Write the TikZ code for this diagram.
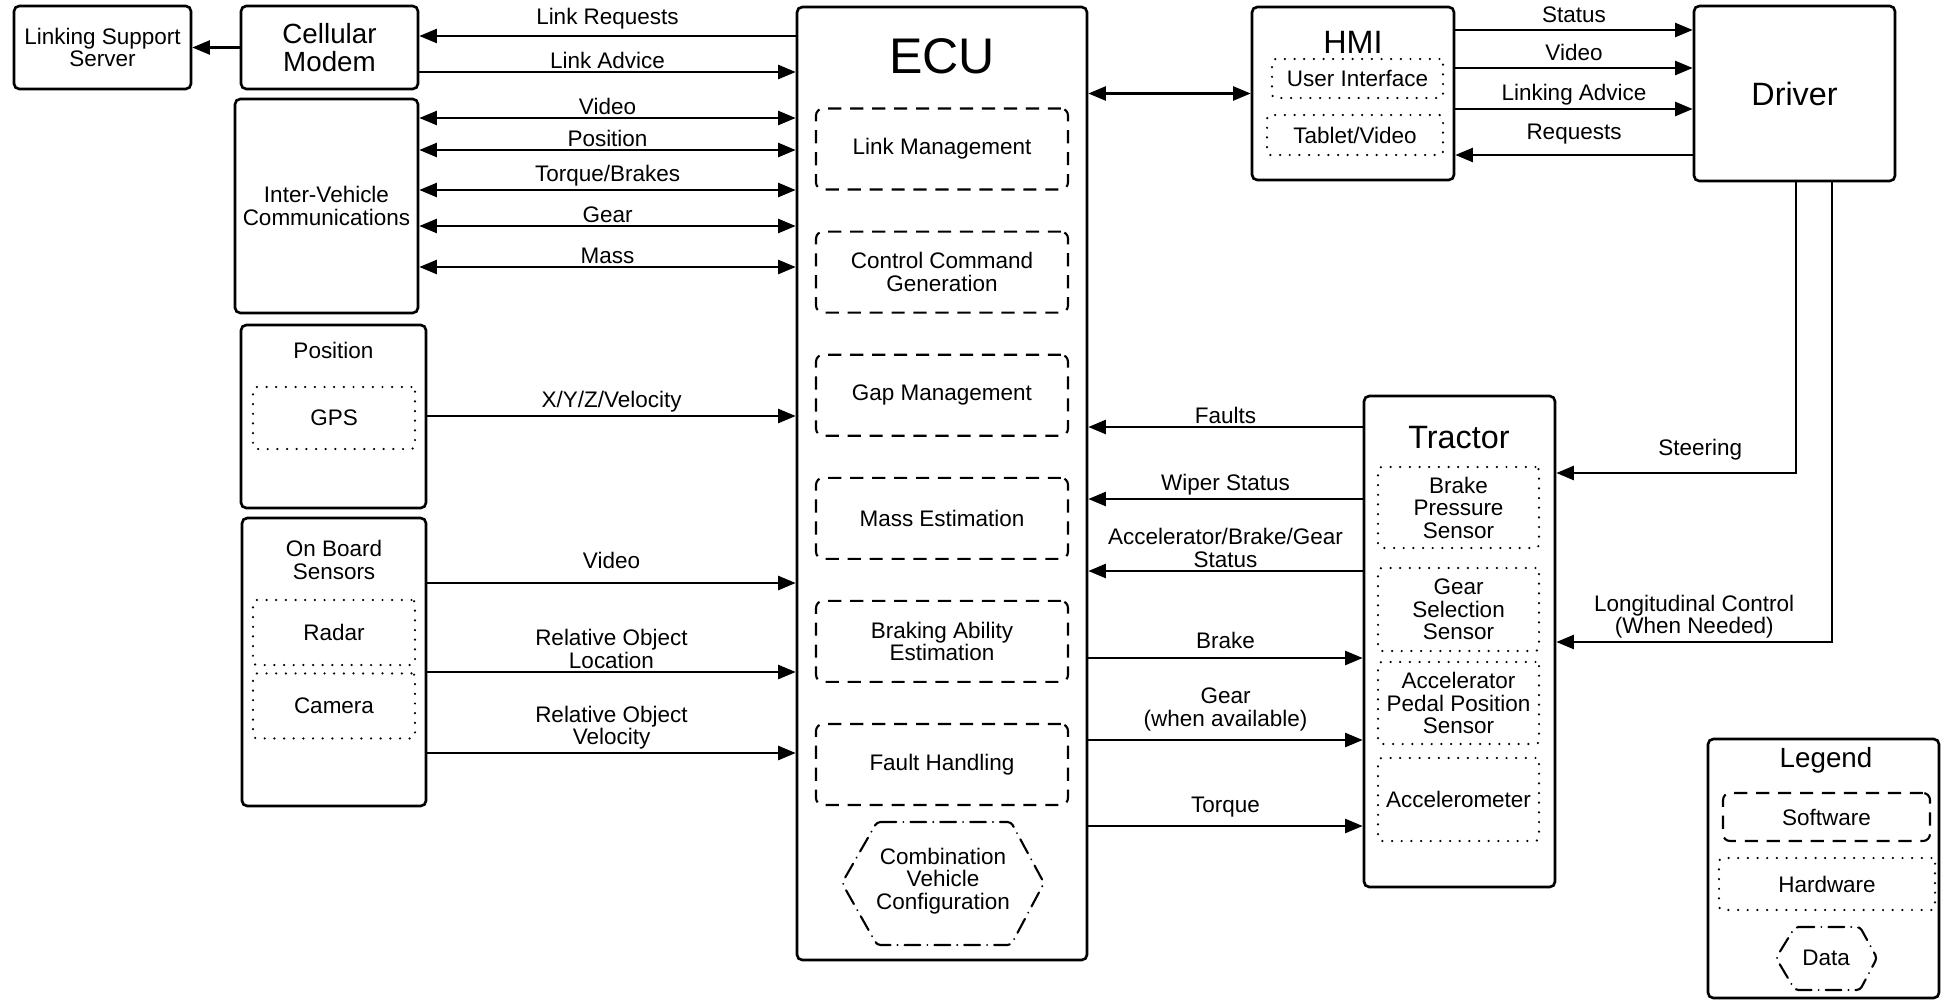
\documentclass[tikz,border=0pt]{standalone}
\usepackage{fontspec}
\setmainfont{Liberation Sans}
\usetikzlibrary{positioning,arrows.meta}
\newcommand{\pxu}{0.02cm}
\newcommand{\lblfont}{\fontsize{12.8}{12.8}\selectfont}
\newcommand{\midfont}{\fontsize{15.8}{15.8}\selectfont}
\newcommand{\bigfont}{\fontsize{18.4}{18.4}\selectfont}
\newcommand{\ecufont}{\fontsize{28.5}{28.5}\selectfont}
\tikzset{
		box/.style={draw, line width=1.5pt, rounded corners=3pt, align=center, font=\lblfont, inner sep=0pt},
		sw/.style={draw, line width=1.2pt, dash pattern=on 7.5pt off 5pt, rounded corners=4pt, align=center, font=\lblfont, inner sep=0pt},
		hw/.style={draw, line width=1.4pt, dash pattern=on 0pt off 5.5pt, line cap=round, rounded corners=2pt, align=center, font=\lblfont, inner sep=0pt},
		cfgdata/.style={line width=1.2pt, dash pattern=on 9pt off 4pt on 0pt off 4pt, line cap=round, rounded corners=2pt},
		sz/.style 2 args={minimum width=#1*\pxu, minimum height=#2*\pxu},
		}
\tikzset{arr/.style={line width=1.3pt, -{Triangle[length=10pt,width=8pt]}}}
\tikzset{dbl/.style={line width=1.3pt, {Triangle[length=10pt,width=8pt]}-{Triangle[length=10pt,width=8pt]}}}
\tikzset{lbl/.style={font=\lblfont, align=center, above, inner sep=1.5pt}}

\begin{document}
\begin{tikzpicture}[x=0.02cm, y=-0.02cm, node distance=0.8cm]
					\useasboundingbox (0,0) rectangle (1941,1001);
					%NODES for left side
					\node[box, sz={177}{83}](lss) at (102.5,47.5){Linking Support\\Server};
					\node[box, sz={177}{83}, font=\midfont](modem) at (329.5,47.5){Cellular\\Modem};
					\node[box, sz={183}{214}](ivc) at (326.5,206){Inter-Vehicle\\Communications};
					\node[box, sz={185}{183}](pos) at (333.5,416.5){};
					\node[font=\lblfont](postitle) at (333.5,350){Position};
					\node[hw, sz={162}{62}](gps) at (334,418){GPS};
					\node[box, sz={184}{288}](obs) at (334,662){};
					\node[font=\lblfont, align=center](obstitle) at (334,560){On Board\\Sensors};
					\node[hw, sz={162}{65}](radar) at (334,632.5){Radar};
					\node[hw, sz={162}{65}](camera)[below=0.12cm of radar]{Camera};
					%NODES for ECU
					\node[box, sz={290}{953}](ecu) at (942,483.5){};
					\node[font=\ecufont](ecutitle) at (942,56){ECU};
					\node[sw, sz={252}{81}](linkmgmt) at (942,149){Link Management};
					\node[sw, sz={252}{81}](ctrlcmd)[below=of linkmgmt]{Control Command\\Generation};
					\node[sw, sz={252}{81}](gapmgmt)[below=of ctrlcmd]{Gap Management};
					\node[sw, sz={252}{81}](massest)[below=of gapmgmt]{Mass Estimation};
					\node[sw, sz={252}{81}](brakeest)[below=of massest]{Braking Ability\\Estimation};
					\node[sw, sz={252}{81}](faulthdl)[below=of brakeest]{Fault Handling};
					\draw[cfgdata] (877,822) -- (1011,822) -- (1044,883) -- (1011,945) -- (877,945) -- (842,883) -- cycle;
					\node[font=\lblfont, align=center](cvc) at (943,881){Combination\\Vehicle\\Configuration};
					%NODES for HMI and Driver
					\node[box, sz={202}{173}](hmi) at (1353,93.5){};
					\node[font=\bigfont](hmititle) at (1353,42){HMI};
					\node[hw, sz={171}{39}](ui) at (1357.5,78.5){User Interface};
					\node[hw, sz={176}{40}](tablet) at (1355,135){Tablet/Video};
					\node[box, sz={201}{175}, font=\bigfont](driver) at (1794.5,93.5){Driver};
					%NODES for Tractor
					\node[box, sz={191}{491}](tractor) at (1459.5,641.5){};
					\node[font=\bigfont](tractortitle) at (1459,438){Tractor};
					\node[hw, sz={161}{81}](bps) at (1458.5,507.5){Brake\\Pressure\\Sensor};
					\node[hw, sz={161}{83}](gss) at (1458.5,609.5){Gear\\Selection\\Sensor};
					\node[hw, sz={161}{82}](apps) at (1458.5,703){Accelerator\\Pedal Position\\Sensor};
					\node[hw, sz={161}{83}](accm) at (1458.5,799.5){Accelerometer};
					%NODES for Legend
					\node[box, sz={231}{259}](legend) at (1823.5,868.5){};
					\node[font=\midfont](legtitle) at (1826,760){Legend};
					\node[sw, sz={207}{48}](legsw) at (1826.5,817){Software};
					\node[hw, sz={216}{52}](leghw) at (1827,884){Hardware};
					\draw[cfgdata] (1795,927) -- (1860,927) -- (1877,958) -- (1860,990) -- (1795,990) -- (1776,958) -- cycle;
					\node[font=\lblfont](legdata) at (1826,958){Data};
					%PATHS left
					\draw[arr] (modem) -- (lss);
					\draw[arr] (ecu.west |- 0,36) -- node[lbl, yshift=2pt]{Link Requests} (modem.east |- 0,36);
					\draw[arr] (modem.east |- 0,72) -- node[lbl]{Link Advice} (ecu.west |- 0,72);
					\foreach \y/\lab in {118/Video, 150/Position, 190/Torque\slash Brakes, 226/Gear, 267/Mass}
						\draw[dbl] (ivc.east |- 0,\y) -- node[lbl]{\lab} (ecu.west |- 0,\y);
					\draw[arr] (pos.east |- 0,416) -- node[lbl]{X/Y/Z/Velocity} (ecu.west |- 0,416);
					\draw[arr] (obs.east |- 0,583) -- node[lbl, yshift=6pt]{Video} (ecu.west |- 0,583);
					\draw[arr] (obs.east |- 0,672) -- node[lbl]{Relative Object\\Location} (ecu.west |- 0,672);
					\draw[arr] (obs.east |- 0,753) -- node[lbl]{Relative Object\\Velocity} (ecu.west |- 0,753);
					%PATHS top right
					\draw[dbl] (ecu.east |- hmi) -- (hmi);
					\draw[arr] (hmi.east |- 0,30) -- node[lbl, yshift=2pt]{Status} (driver.west |- 0,30);
					\draw[arr] (hmi.east |- 0,68) -- node[lbl, yshift=2pt]{Video} (driver.west |- 0,68);
					\draw[arr] (hmi.east |- 0,109) -- node[lbl]{Linking Advice} (driver.west |- 0,109);
					\draw[arr] (driver.west |- 0,155) -- node[lbl, yshift=4pt]{Requests} (hmi.east |- 0,155);
					%PATHS tractor
					\draw[arr] (tractor.west |- 0,427) -- node[lbl]{Faults} (ecu.east |- 0,427);
					\draw[arr] (tractor.west |- 0,499) -- node[lbl]{Wiper Status} (ecu.east |- 0,499);
					\draw[arr] (tractor.west |- 0,571) -- node[lbl]{Accelerator/Brake/Gear\\Status} (ecu.east |- 0,571);
					\draw[arr] (ecu.east |- 0,658) -- node[lbl, yshift=3pt]{Brake} (tractor.west |- 0,658);
					\draw[arr] (ecu.east |- 0,740) -- node[lbl, yshift=3pt]{Gear\\(when available)} (tractor.west |- 0,740);
					\draw[arr] (ecu.east |- 0,826) -- node[lbl, yshift=3pt]{Torque} (tractor.west |- 0,826);
					\draw[arr] (driver.south -| 1796,0) |- node[lbl, pos=0.7, yshift=5pt]{Steering} (tractor.east |- 0,473);
					\draw[arr] (driver.south -| 1832,0) |- node[lbl, pos=0.75]{Longitudinal Control\\(When Needed)} (tractor.east |- 0,642);
				\end{tikzpicture}
\end{document}
